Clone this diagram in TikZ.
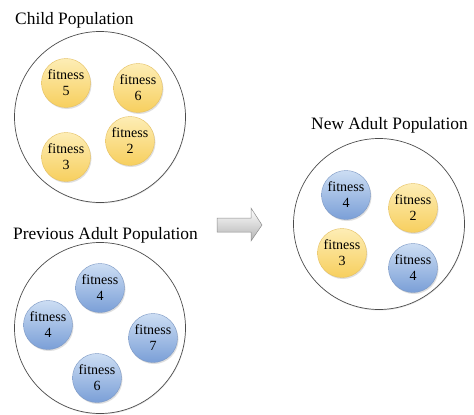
\documentclass[tikz,border=0pt]{standalone}
\usepackage{fontspec}
\setmainfont{Liberation Serif}
\usetikzlibrary{shadows}
\definecolor{ytop}{HTML}{FDEDB5}
\definecolor{ybot}{HTML}{F7CF5E}
\definecolor{yline}{HTML}{E5C062}
\definecolor{btop}{HTML}{CCDDF3}
\definecolor{bbot}{HTML}{7A9FD7}
\definecolor{bline}{HTML}{7C98C4}
\tikzset{
  ind/.style={circle, minimum size=49pt, inner sep=0pt, align=center,
    font=\fontsize{14}{16}\selectfont, line width=0.4pt,
    drop shadow={shadow xshift=1pt, shadow yshift=-1.5pt, opacity=0.25}},
  yel/.style={ind, draw=yline, top color=ytop, bottom color=ybot},
  blu/.style={ind, draw=bline, top color=btop, bottom color=bbot},
  pop/.style={circle, draw=black!70, line width=0.7pt, minimum size=171pt, inner sep=0pt,
    drop shadow={shadow xshift=0.5pt, shadow yshift=-1pt, opacity=0.2}, fill=white},
  title/.style={font=\fontsize{17.4}{17.4}\selectfont, anchor=base west, inner sep=0pt}
}
\begin{document}
\begin{tikzpicture}[x=1pt,y=-1pt]
\useasboundingbox (0,0) rectangle (474,415);
% titles
\node[title] (tchild) at (15,24) {Child Population};
\node[title] (tprev) at (13,239) {Previous Adult Population};
\node[title, anchor=base east] (tnew) at (468,129) {New Adult Population};
% population circles
\node[pop] (child) at (100,117) {};
\node[pop] (prev) at (100,328) {};
\node[pop] (new) at (379,224) {};
% child
\node[yel] (c5) at (66,83) {fitness\\5};
\node[yel] (c6) at (138,88) {fitness\\6};
\node[yel] (c2) at (130,141) {fitness\\2};
\node[yel] (c3) at (66,157) {fitness\\3};
% previous adult
\node[blu] (p4a) at (100,288) {fitness\\4};
\node[blu] (p4b) at (48,325) {fitness\\4};
\node[blu] (p7) at (153,338) {fitness\\7};
\node[blu] (p6) at (97,378) {fitness\\6};
% new adult
\node[blu] (n4a) at (346,195) {fitness\\4};
\node[yel] (n2) at (413,208) {fitness\\2};
\node[yel] (n3) at (342,253) {fitness\\3};
\node[blu] (n4b) at (413,268) {fitness\\4};
% arrow
\draw[draw=black!45, line width=0.5pt, top color=white, bottom color=black!30]
  (217,218) -- (251,218) -- (251,208) -- (262,225) -- (251,241) -- (251,232) -- (217,232) -- cycle;
\end{tikzpicture}
\end{document}
